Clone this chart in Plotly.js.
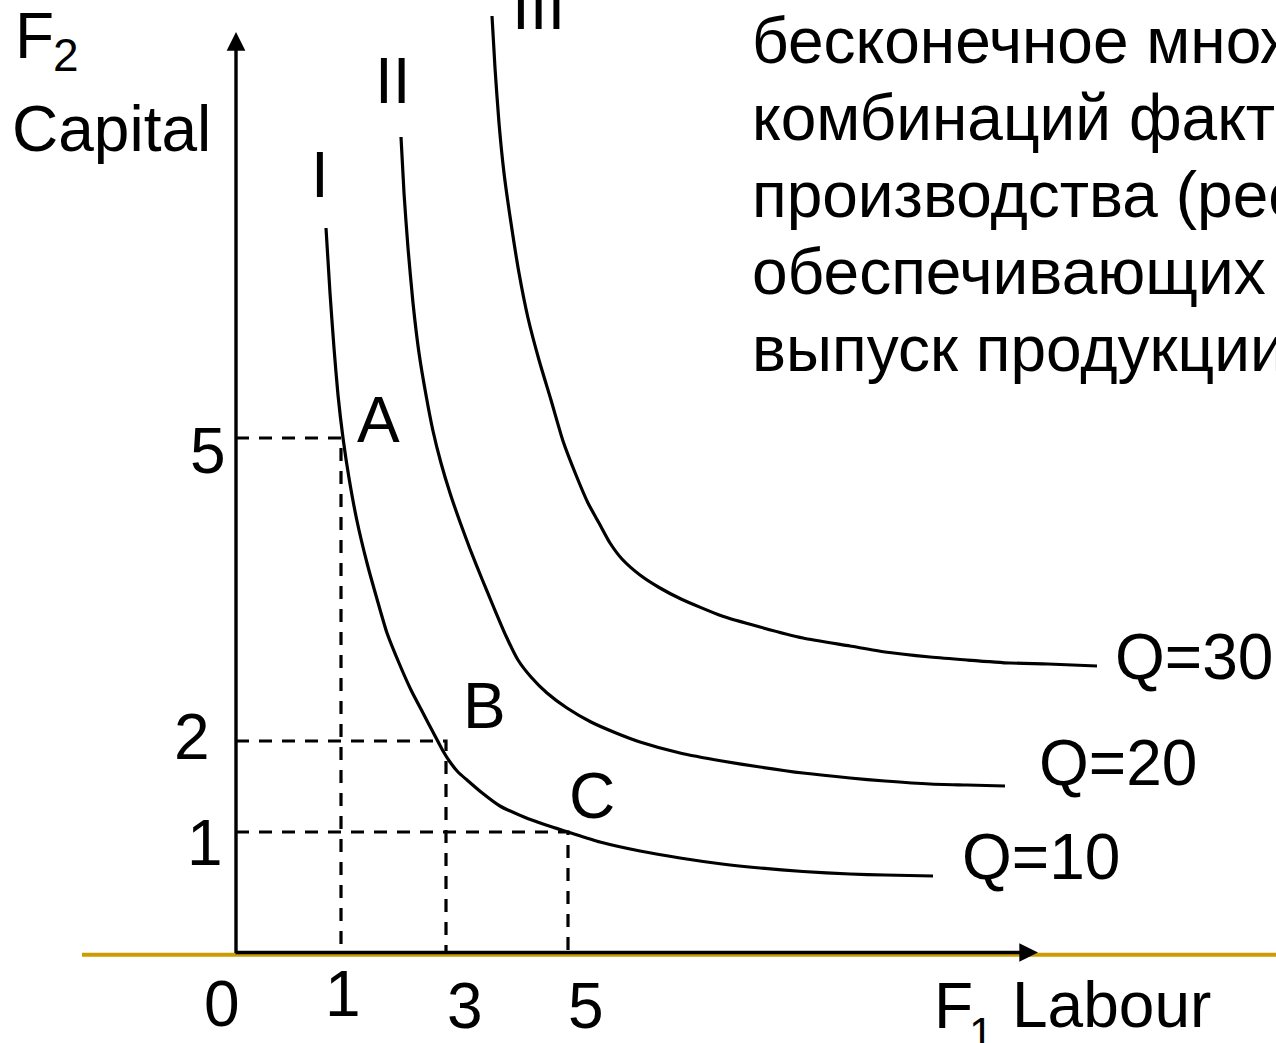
<!DOCTYPE html>
<html>
<head>
<meta charset="utf-8">
<script src="https://cdn.plot.ly/plotly-3.0.1.min.js"></script>
<style>
  html, body { margin: 0; padding: 0; background: #ffffff; }
  #chart { width: 1276px; height: 1043px; }
</style>
</head>
<body>
<div id="chart"></div>
<script>
// Isoquant map: three curves of equal output in the labour / capital plane.
// Curves are given in the diagram's own axis units (schematic, not to scale).

const q10Labour  = [0.90, 0.94, 0.98, 1.02, 1.07, 1.13, 1.21, 1.31, 1.41, 1.51, 1.63, 1.75, 1.87, 1.98, 2.07, 2.14, 2.22, 2.31, 2.45, 2.64, 2.88, 3.10, 3.32, 3.64, 4.04, 4.44, 4.86, 5.24, 5.67, 6.14, 6.49, 6.97];
const q10Capital = [7.25, 6.60, 6.05, 5.58, 5.15, 4.75, 4.32, 3.90, 3.54, 3.20, 2.90, 2.63, 2.40, 2.19, 2.02, 1.91, 1.81, 1.73, 1.61, 1.47, 1.36, 1.28, 1.21, 1.11, 1.02, 0.95, 0.89, 0.85, 0.815, 0.79, 0.78, 0.77];

const q20Labour  = [1.65, 1.68, 1.72, 1.77, 1.83, 1.90, 1.97, 2.05, 2.14, 2.24, 2.34, 2.46, 2.58, 2.70, 2.82, 2.95, 3.11, 3.31, 3.55, 3.80, 4.04, 4.44, 4.86, 5.24, 5.67, 6.14, 6.49, 6.94, 7.31, 7.69];
const q20Capital = [8.16, 7.60, 7.05, 6.50, 6.00, 5.58, 5.22, 4.90, 4.60, 4.31, 4.04, 3.74, 3.45, 3.17, 2.93, 2.76, 2.60, 2.45, 2.31, 2.20, 2.11, 2.00, 1.92, 1.86, 1.80, 1.75, 1.72, 1.69, 1.68, 1.67];

const q30Labour  = [2.56, 2.59, 2.63, 2.68, 2.75, 2.83, 2.92, 3.03, 3.15, 3.27, 3.40, 3.52, 3.63, 3.74, 3.86, 4.04, 4.24, 4.45, 4.86, 5.24, 5.67, 6.14, 6.49, 6.94, 7.31, 7.74, 8.12, 8.61];
const q30Capital = [9.37, 8.85, 8.30, 7.80, 7.30, 6.80, 6.35, 5.93, 5.53, 5.12, 4.78, 4.50, 4.30, 4.10, 3.94, 3.78, 3.65, 3.54, 3.37, 3.26, 3.15, 3.07, 3.01, 2.96, 2.93, 2.90, 2.89, 2.87];

const isoquantLevels   = ['Q=10', 'Q=20', 'Q=30'];
const isoquantNumerals = ['I', 'II', 'III'];

// Marked combinations on the Q=10 isoquant
const pointNames    = ['A', 'B', 'C'];
const pointLabour   = [1.05, 2.10, 3.32];   // position along the labour axis
const pointCapital  = [5.15, 2.12, 1.21];   // position along the capital axis
const labourValues  = [1, 3, 5];            // values printed under the labour axis
const capitalValues = [5, 2, 1];            // values printed beside the capital axis

const definitionLines = [
  'бесконечное множество',
  'комбинаций факторов',
  'производства (ресурсов),',
  'обеспечивающих одинаковый',
  'выпуск продукции'
];

const FONT = 'Liberation Sans, Arial, Helvetica, sans-serif';
const INK = '#000000';
const GOLD = '#CC9C00';
const FS = 64;

const curves = [
  [q10Labour, q10Capital],
  [q20Labour, q20Capital],
  [q30Labour, q30Capital]
];

const traces = [];

// dashed guides from each marked point to both axes
pointNames.forEach((name, i) => {
  traces.push({
    type: 'scatter', mode: 'lines',
    x: [0, pointLabour[i], pointLabour[i]],
    y: [pointCapital[i], pointCapital[i], 0],
    line: { color: INK, width: 3.2, dash: '13px,10px' },
    hoverinfo: 'skip', showlegend: false
  });
});

// the isoquants
curves.forEach(([lx, ky], i) => {
  traces.push({
    type: 'scatter', mode: 'lines',
    name: isoquantLevels[i],
    x: lx, y: ky,
    line: { color: INK, width: 3.2, shape: 'spline', smoothing: 0.6 },
    hoverinfo: 'skip', showlegend: false
  });
});

function label(text, x, y, size, xanchor) {
  return {
    text: text, x: x, y: y, xref: 'x', yref: 'y',
    showarrow: false, xanchor: xanchor || 'center', yanchor: 'middle',
    font: { family: FONT, size: size || FS, color: INK }
  };
}

const annotations = [];

// axes with arrowheads
annotations.push({
  x: 0, y: 9.21, ax: 0, ay: -0.02, xref: 'x', yref: 'y', axref: 'x', ayref: 'y',
  text: ' ', font: { size: 1 }, showarrow: true,
  arrowhead: 2, arrowsize: 1.1, arrowwidth: 3.4, arrowcolor: INK, standoff: 0, startstandoff: 0
});
annotations.push({
  x: 8.02, y: 0.005, ax: -0.02, ay: 0.005, xref: 'x', yref: 'y', axref: 'x', ayref: 'y',
  text: ' ', font: { size: 1 }, showarrow: true,
  arrowhead: 2, arrowsize: 1.1, arrowwidth: 3.4, arrowcolor: INK, standoff: 0, startstandoff: 0
});

// axis titles
annotations.push(label('F', -2.23, 9.17, FS, 'left'));
annotations.push(label('2', -1.70, 8.98, 46));
annotations.push(label('Capital', -2.26, 8.24, FS, 'left'));
annotations.push(label('F', 6.96, -0.53, FS, 'left'));
annotations.push(label('1', 7.45, -0.80, 44));
annotations.push(label('Labour', 7.74, -0.52, FS, 'left'));

// origin and axis values
annotations.push(label('0', -0.14, -0.51));
const labourLabelPos = [[1.07, -0.41], [2.29, -0.53], [3.50, -0.53]];
const capitalLabelPos = [[-0.28, 5.02], [-0.44, 2.16], [-0.31, 1.10]];
labourValues.forEach((v, i) => annotations.push(label(String(v), labourLabelPos[i][0], labourLabelPos[i][1])));
capitalValues.forEach((v, i) => annotations.push(label(String(v), capitalLabelPos[i][0], capitalLabelPos[i][1])));

// point names
const pointLabelPos = [[1.42, 5.33], [2.48, 2.47], [3.56, 1.57]];
pointNames.forEach((n, i) => annotations.push(label(n, pointLabelPos[i][0], pointLabelPos[i][1])));

// isoquant numerals above each curve and output levels at their right ends
const numeralPos = [[0.84, 7.78], [1.57, 8.72], [3.02, 9.46]];
const levelPos = [[7.24, 0.96], [8.01, 1.90], [8.77, 2.96]];
isoquantNumerals.forEach((t, i) => annotations.push(label(t, numeralPos[i][0], numeralPos[i][1])));
isoquantLevels.forEach((t, i) => annotations.push(label(t, levelPos[i][0], levelPos[i][1], FS, 'left')));

// definition text, one line per annotation
const lineY = [9.12, 8.35, 7.58, 6.81, 6.04];
definitionLines.forEach((t, i) => annotations.push(label(t, 5.14, lineY[i], FS, 'left')));

const layout = {
  width: 1276, height: 1043,
  margin: { l: 0, r: 0, t: 0, b: 0, pad: 0 },
  paper_bgcolor: '#ffffff', plot_bgcolor: '#ffffff',
  showlegend: false,
  xaxis: { range: [-2.36, 10.40], visible: false, fixedrange: true },
  yaxis: { range: [-0.90, 9.53], visible: false, fixedrange: true },
  shapes: [{
    type: 'line', layer: 'below',
    xref: 'x', yref: 'y', x0: -1.54, x1: 10.6, y0: -0.017, y1: -0.017,
    line: { color: GOLD, width: 4 }
  }],
  annotations: annotations
};

Plotly.newPlot('chart', traces, layout, { staticPlot: true, displayModeBar: false });
</script>
</body>
</html>
